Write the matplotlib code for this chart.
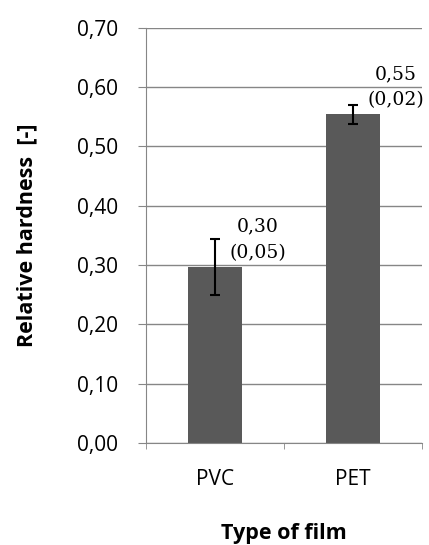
import numpy as np
import matplotlib.pyplot as plt
from matplotlib.ticker import FuncFormatter, FixedLocator

films = ['PVC', 'PET']
hardness = [0.297, 0.554]
errors = [0.047, 0.016]
labels = ['0,30\n(0,05)', '0,55\n(0,02)']

fig = plt.figure(figsize=(4.29, 5.45), dpi=100)
ax = fig.add_axes([0.340, 0.187, 0.644, 0.762])

x = np.arange(len(films))
ax.bar(x, hardness, width=0.39, color='#595959', zorder=3)
ax.errorbar(x, hardness, yerr=errors, fmt='none', ecolor='black',
            elinewidth=1.5, capsize=3.5, capthick=1.5, zorder=4)

# value (std) labels to the upper right of each bar
for xi, h, lab in zip(x, hardness, labels):
    ax.annotate(lab, (xi, h), xytext=(31, 3.5), textcoords='offset points',
                ha='center', va='bottom', fontsize=13.5, family='DejaVu Serif',
                linespacing=1.6, multialignment='center')

ax.set_xlim(-0.5, 1.5)
ax.set_ylim(0, 0.70)
ax.set_yticks(np.arange(0, 0.71, 0.1))
ax.yaxis.set_major_formatter(FuncFormatter(lambda v, p: f'{v:.2f}'.replace('.', ',')))
ax.set_xticks(x)
ax.set_xticklabels(films)
ax.xaxis.set_minor_locator(FixedLocator([-0.5, 0.5, 1.5]))
ax.tick_params(axis='x', which='major', length=0, pad=19)
ax.tick_params(axis='x', which='minor', length=4.5, color='#868686')
ax.tick_params(axis='y', length=5.8, color='#868686', pad=14)
for lab in ax.get_xticklabels() + ax.get_yticklabels():
    lab.set_fontsize(15)
    lab.set_family('Open Sans')

ax.grid(axis='y', color='#868686', linewidth=1, zorder=0)
for s in ['top', 'right']:
    ax.spines[s].set_visible(False)
for s in ['left', 'bottom']:
    ax.spines[s].set_color('#868686')
    ax.spines[s].set_zorder(5)

ax.set_ylabel('Relative hardness  [-]', fontsize=15.5, fontweight='bold',
              family='Open Sans')
ax.yaxis.set_label_coords(-0.392, 0.5)
ax.set_xlabel('Type of film', fontsize=15.5, fontweight='bold',
              family='Open Sans')
ax.xaxis.set_label_coords(0.5, -0.193)

fig.savefig('out.png', dpi=100)
